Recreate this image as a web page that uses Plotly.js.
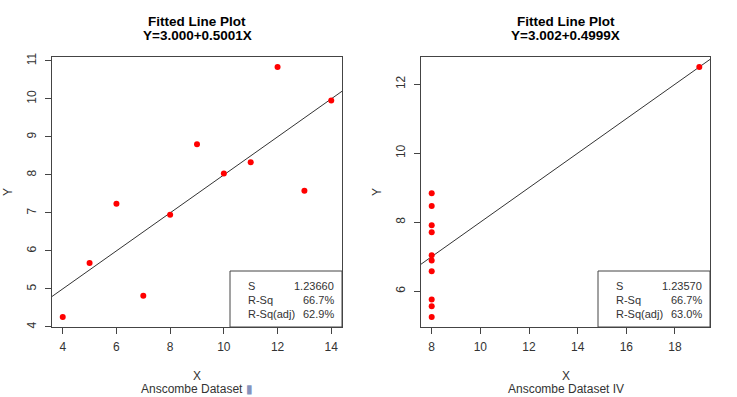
<!DOCTYPE html>
<html><head><meta charset="utf-8">
<script src="https://cdn.plot.ly/plotly-3.0.1.min.js"></script>
<style>html,body{margin:0;padding:0;background:#fff}#chart{width:737px;height:397px}</style>
</head><body><div id="chart"></div>
<script>
// Anscombe dataset I
const xI = [10, 8, 13, 9, 11, 14, 6, 4, 12, 7, 5];
const yI = [8.04, 6.95, 7.58, 8.81, 8.33, 9.96, 7.24, 4.26, 10.84, 4.82, 5.68];
// Anscombe dataset IV
const xIV = [8, 8, 8, 8, 8, 8, 8, 19, 8, 8, 8];
const yIV = [6.58, 5.76, 7.71, 8.84, 8.47, 7.04, 5.25, 12.50, 5.56, 7.91, 6.89];

const titlesI = ["Fitted Line Plot", "Y=3.000+0.5001X"];
const titlesIV = ["Fitted Line Plot", "Y=3.002+0.4999X"];
const statLabels = ["S", "R-Sq", "R-Sq(adj)"];
const statsI = ["1.23660", "66.7%", "62.9%"];
const statsIV = ["1.23570", "66.7%", "63.0%"];
const xTicksI = [4, 6, 8, 10, 12, 14];
const yTicksI = [4, 5, 6, 7, 8, 9, 10, 11];
const xTicksIV = [8, 10, 12, 14, 16, 18];
const yTicksIV = [6, 8, 10, 12];

(function () {
function fit(x, y) {
  const n = x.length;
  const mx = x.reduce((a, b) => a + b) / n, my = y.reduce((a, b) => a + b) / n;
  let sxy = 0, sxx = 0;
  for (let i = 0; i < n; i++) { sxy += (x[i] - mx) * (y[i] - my); sxx += (x[i] - mx) ** 2; }
  const b = sxy / sxx; return { a: my - b * mx, b: b };
}
function rng(v) { const mn = Math.min(...v), mx = Math.max(...v), e = (mx - mn) * 0.04; return [mn - e, mx + e]; }

const W = 737, H = 397;
const panels = [
  { x: xI, y: yI, titles: titlesI, stats: statsI, xt: xTicksI, yt: yTicksI, sub: "Anscombe Dataset <span style='color:#8593bd'>▮</span>", px: [52, 342] },
  { x: xIV, y: yIV, titles: titlesIV, stats: statsIV, xt: xTicksIV, yt: yTicksIV, sub: "Anscombe Dataset IV", px: [421, 710] }
];
const pTop = 57, pBot = 327;
const traces = [], shapes = [], annotations = [];
const layout = {
  width: W, height: H, margin: { l: 0, r: 0, t: 0, b: 0 },
  paper_bgcolor: "#fff", plot_bgcolor: "#fff", showlegend: false,
  font: { family: "Liberation Sans, Arial, sans-serif", size: 12, color: "#333" }
};
panels.forEach((p, i) => {
  const s = i === 0 ? "" : "2";
  const xr = rng(p.x), yr = rng(p.y);
  const f = fit(p.x, p.y);
  const axCommon = {
    showgrid: false, zeroline: false, showline: true, mirror: true, linecolor: "#444", linewidth: 1,
    ticks: "outside", ticklen: 6, tickcolor: "#444", tickfont: { size: 12, color: "#333" }, tickmode: "array"
  };
  layout["xaxis" + s] = Object.assign({}, axCommon, {
    domain: [p.px[0] / W, p.px[1] / W], range: xr, tickvals: p.xt, anchor: "y" + s, ticklabelstandoff: 3
  });
  layout["yaxis" + s] = Object.assign({}, axCommon, {
    domain: [1 - pBot / H, 1 - pTop / H], range: yr, tickvals: p.yt, tickangle: -90, anchor: "x" + s, ticklabelstandoff: 4
  });
  traces.push({
    x: xr, y: xr.map(v => f.a + f.b * v), xaxis: "x" + s, yaxis: "y" + s,
    mode: "lines", line: { color: "#333", width: 1 }, hoverinfo: "skip"
  });
  traces.push({
    x: p.x, y: p.y, xaxis: "x" + s, yaxis: "y" + s, mode: "markers",
    marker: { color: "#ff0000", size: 6 }
  });
  const cx = (p.px[0] + p.px[1]) / 2 / W;
  annotations.push({ xref: "paper", yref: "paper", x: cx, y: 1 - 22 / H, text: "<b>" + p.titles[0] + "</b>", showarrow: false, font: { size: 13.5, color: "#000" }, xanchor: "center", yanchor: "middle" });
  annotations.push({ xref: "paper", yref: "paper", x: cx, y: 1 - 36 / H, text: "<b>" + p.titles[1] + "</b>", showarrow: false, font: { size: 13.5, color: "#000" }, xanchor: "center", yanchor: "middle" });
  annotations.push({ xref: "paper", yref: "paper", x: cx, y: 1 - 376 / H, text: "X", showarrow: false, font: { size: 12, color: "#333" }, xanchor: "center", yanchor: "middle" });
  annotations.push({ xref: "paper", yref: "paper", x: cx, y: 1 - 389 / H, text: p.sub, showarrow: false, font: { size: 12, color: "#333" }, xanchor: "center", yanchor: "middle" });
  annotations.push({ xref: "paper", yref: "paper", x: (p.px[0] - 44) / W, y: 1 - 192 / H, text: "Y", textangle: -90, showarrow: false, font: { size: 12, color: "#333" }, xanchor: "center", yanchor: "middle" });
  const bx0 = p.px[1] - 112;
  shapes.push({ type: "rect", xref: "paper", yref: "paper", x0: bx0 / W, x1: p.px[1] / W, y0: 1 - pBot / H, y1: 1 - 271 / H, line: { color: "#444", width: 1 }, fillcolor: "rgba(255,255,255,0)", layer: "above" });
  statLabels.forEach((lab, k) => {
    const yy = 1 - (286 + k * 14) / H;
    annotations.push({ xref: "paper", yref: "paper", x: (bx0 + 16) / W, y: yy, text: lab, showarrow: false, xanchor: "left", yanchor: "middle", font: { size: 11, color: "#333" } });
    annotations.push({ xref: "paper", yref: "paper", x: (p.px[1] - 6) / W, y: yy, text: p.stats[k], showarrow: false, xanchor: "right", yanchor: "middle", font: { size: 11, color: "#333" } });
  });
});
layout.shapes = shapes; layout.annotations = annotations;
Plotly.newPlot("chart", traces, layout, { staticPlot: true, displayModeBar: false });
})();
</script></body></html>
